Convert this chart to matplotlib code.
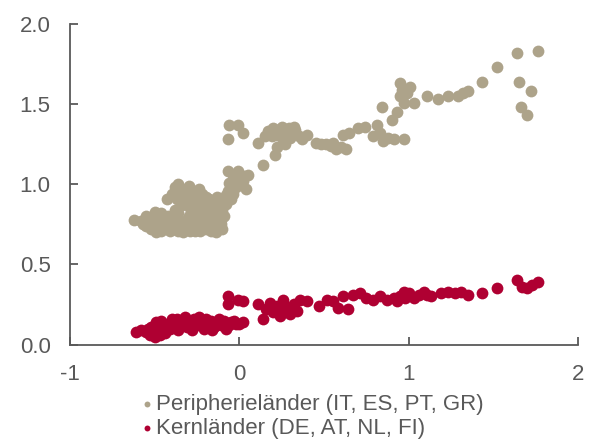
import matplotlib
matplotlib.use("Agg")
import matplotlib.pyplot as plt

# Peripherieländer (grau-beige)
peri_x = [-0.62, -0.58, -0.55, -0.52, -0.49, -0.55, -0.52, -0.49, -0.46, -0.44,
          -0.42, -0.40, -0.38, -0.36, -0.34, -0.32, -0.30, -0.28, -0.26, -0.24,
          -0.22, -0.20, -0.18, -0.16, -0.14, -0.12, -0.10, -0.09, -0.47, -0.45,
          -0.43, -0.41, -0.39, -0.37, -0.35, -0.33, -0.31, -0.29, -0.27, -0.25,
          -0.23, -0.21, -0.19, -0.17, -0.15, -0.13, -0.11, -0.50, -0.46, -0.38,
          -0.40, -0.38, -0.36, -0.34, -0.32, -0.30, -0.28, -0.26, -0.24, -0.22,
          -0.20, -0.37, -0.33, -0.28, -0.27, -0.26, -0.25, -0.23, -0.24, -0.29,
          -0.18, -0.16, -0.14, -0.12, -0.10, -0.09, -0.11, -0.15,
          -0.08, -0.06, -0.04, -0.02, 0.00, 0.02, -0.03, -0.06, 0.04, 0.05,
          -0.01, 0.03, -0.07, -0.16, -0.10,
          -0.57, -0.53, -0.50, -0.47, -0.44, -0.41, -0.38, -0.35, -0.32, -0.29,
          -0.26, -0.23, -0.20, -0.17, -0.14, -0.11, -0.42, -0.36, -0.30, -0.21,
          -0.19, -0.13, -0.35, -0.31, -0.43, -0.34, -0.21, -0.18, -0.13, -0.08,
          -0.07, -0.05, -0.12, -0.04,
          -0.07, -0.06, -0.01, 0.02, 0.11, 0.14, 0.21, 0.22, 0.27, 0.15,
          0.17, 0.20, 0.23, 0.25, 0.27, 0.29, 0.31, 0.33, 0.35, 0.37,
          0.19, 0.30, 0.26, 0.40, 0.45, 0.48, 0.51, 0.54, 0.57, 0.60,
          0.63, 0.55, 0.61, 0.65, 0.70, 0.74, 0.81, 0.83, 0.85, 0.91,
          0.97, 0.79, 0.88, 0.84, 0.90, 0.93, 0.95, 1.01, 0.95, 0.97,
          1.03, 0.99, 0.96, 1.11, 1.17, 1.23, 1.29, 1.35, 1.32, 1.43,
          1.52, 1.64, 1.76, 1.65, 1.72, 1.66, 1.70, 0.22, 0.28, 0.32]
peri_y = [0.78, 0.77, 0.80, 0.79, 0.81, 0.74, 0.72, 0.70, 0.71, 0.74,
          0.77, 0.80, 0.75, 0.71, 0.73, 0.77, 0.80, 0.74, 0.71, 0.75,
          0.78, 0.72, 0.76, 0.80, 0.73, 0.77, 0.72, 0.80, 0.76, 0.78,
          0.72, 0.74, 0.72, 0.78, 0.76, 0.70, 0.74, 0.71, 0.77, 0.73,
          0.71, 0.75, 0.74, 0.71, 0.76, 0.74, 0.75, 0.83, 0.82, 0.84,
          0.94, 0.98, 1.00, 0.97, 0.95, 0.99, 0.96, 0.93, 0.97, 0.94,
          0.92, 0.91, 0.90, 0.88, 0.84, 0.81, 0.86, 0.82, 0.90, 0.85,
          0.82, 0.86, 0.84, 0.88, 0.84, 0.90, 0.80, 0.90,
          0.93, 0.96, 0.94, 0.98, 1.00, 1.02, 1.04, 1.01, 0.97, 1.06,
          1.08, 1.05, 1.08, 0.88, 0.85,
          0.75, 0.76, 0.75, 0.73, 0.76, 0.71, 0.73, 0.74, 0.75, 0.77,
          0.76, 0.73, 0.77, 0.74, 0.70, 0.78, 0.80, 0.82, 0.78, 0.80,
          0.83, 0.81, 0.95, 0.92, 0.91, 0.87, 0.87, 0.91, 0.92, 0.88,
          0.96, 0.91, 0.83, 1.06,
          1.28, 1.37, 1.37, 1.32, 1.26, 1.12, 1.18, 1.23, 1.25, 1.30,
          1.33, 1.35, 1.34, 1.36, 1.33, 1.35, 1.32, 1.34, 1.30, 1.28,
          1.30, 1.29, 1.28, 1.31, 1.26, 1.25, 1.25, 1.24, 1.22, 1.23,
          1.22, 1.26, 1.31, 1.32, 1.35, 1.36, 1.37, 1.32, 1.27, 1.28,
          1.28, 1.30, 1.29, 1.48, 1.40, 1.45, 1.63, 1.61, 1.55, 1.51,
          1.51, 1.57, 1.59, 1.55, 1.53, 1.55, 1.55, 1.58, 1.57, 1.64,
          1.73, 1.82, 1.83, 1.64, 1.58, 1.48, 1.43, 1.31, 1.31, 1.36]

# Kernländer (rot)
kern_x = [-0.61, -0.58, -0.55, -0.53, -0.50, -0.47, -0.44, -0.52, -0.49, -0.46,
          -0.43, -0.41, -0.39, -0.37, -0.35, -0.33, -0.31, -0.29, -0.27, -0.25,
          -0.23, -0.21, -0.19, -0.17, -0.15, -0.13, -0.11, -0.09, -0.07, -0.05,
          -0.03, 0.00, 0.02, -0.40, -0.36, -0.32, -0.28, -0.24, -0.20, -0.16,
          -0.12, -0.08, -0.45, -0.48,
          -0.42, -0.38, -0.34, -0.30, -0.26, -0.22, -0.18, -0.14, -0.10, -0.06,
          -0.02, -0.54, -0.51,
          -0.07, -0.01, 0.02, -0.07, 0.11, 0.14, 0.16, 0.18, 0.20, 0.22,
          0.24, 0.26, 0.28, 0.30, 0.32, 0.34, 0.36, 0.40, 0.47, 0.52,
          0.55, 0.58, 0.64, 0.61, 0.67, 0.71, 0.75, 0.79, 0.83, 0.87,
          0.91, 0.95, 0.97, 1.00, 1.03, 1.06, 1.09, 1.11, 1.13, 1.19,
          1.23, 1.27, 1.31, 1.35, 1.43, 1.52, 1.64, 1.67, 1.70, 1.73,
          1.76, 0.93, 0.98, 0.23, 0.27, 0.19]
kern_y = [0.08, 0.09, 0.08, 0.06, 0.05, 0.06, 0.07, 0.11, 0.14, 0.15,
          0.12, 0.10, 0.14, 0.16, 0.12, 0.15, 0.11, 0.13, 0.16, 0.12,
          0.14, 0.10, 0.13, 0.15, 0.11, 0.14, 0.12, 0.15, 0.13, 0.14,
          0.15, 0.13, 0.14, 0.16, 0.09, 0.17, 0.09, 0.17, 0.16, 0.09,
          0.16, 0.10, 0.10, 0.09,
          0.13, 0.12, 0.13, 0.14, 0.14, 0.12, 0.11, 0.13, 0.14, 0.12,
          0.13, 0.10, 0.07,
          0.30, 0.28, 0.27, 0.25, 0.25, 0.16, 0.22, 0.26, 0.20, 0.24,
          0.18, 0.28, 0.22, 0.19, 0.25, 0.21, 0.28, 0.27, 0.24, 0.28,
          0.27, 0.23, 0.22, 0.30, 0.31, 0.32, 0.29, 0.28, 0.30, 0.28,
          0.29, 0.30, 0.33, 0.32, 0.29, 0.31, 0.33, 0.31, 0.30, 0.32,
          0.33, 0.32, 0.33, 0.31, 0.32, 0.35, 0.40, 0.36, 0.35, 0.37,
          0.39, 0.27, 0.29, 0.21, 0.24, 0.23]

grau = '#ADA38A'
rot = '#AF0032'
txt = '#595959'

plt.rcParams['font.family'] = ['Liberation Sans', 'DejaVu Sans']

fig = plt.figure(figsize=(5.9, 4.41), dpi=100)
ax = fig.add_axes([0.1186, 0.2187, 0.8614, 0.7269])

ax.scatter(peri_x, peri_y, s=72, color=grau, linewidths=0,
           label='Peripherieländer (IT, ES, PT, GR)', zorder=2)
ax.scatter(kern_x, kern_y, s=72, color=rot, linewidths=0,
           label='Kernländer (DE, AT, NL, FI)', zorder=3)

ax.set_xlim(-1, 2)
ax.set_ylim(0, 2.0)
ax.set_xticks([-1, 0, 1, 2])
ax.set_xticklabels(['-1', '0', '1', '2'])
ax.set_yticks([0, 0.5, 1.0, 1.5, 2.0])
ax.set_yticklabels(['0.0', '0.5', '1.0', '1.5', '2.0'])

for s in ['top', 'right']:
    ax.spines[s].set_visible(False)
for s in ['left', 'bottom']:
    ax.spines[s].set_color(txt)
    ax.spines[s].set_linewidth(1.3)

ax.tick_params(direction='in', length=6, width=1.3, color=txt,
               labelcolor=txt, labelsize=16)
ax.tick_params(axis='y', pad=14)
ax.tick_params(axis='x', pad=14)

leg = fig.legend(loc='upper center', bbox_to_anchor=(0.525, 0.132),
                 frameon=False, fontsize=16, markerscale=0.5,
                 handletextpad=-0.1, labelspacing=0.12, borderpad=0,
                 handlelength=1.0)
for t in leg.get_texts():
    t.set_color(txt)

fig.savefig('out.png', dpi=100)
